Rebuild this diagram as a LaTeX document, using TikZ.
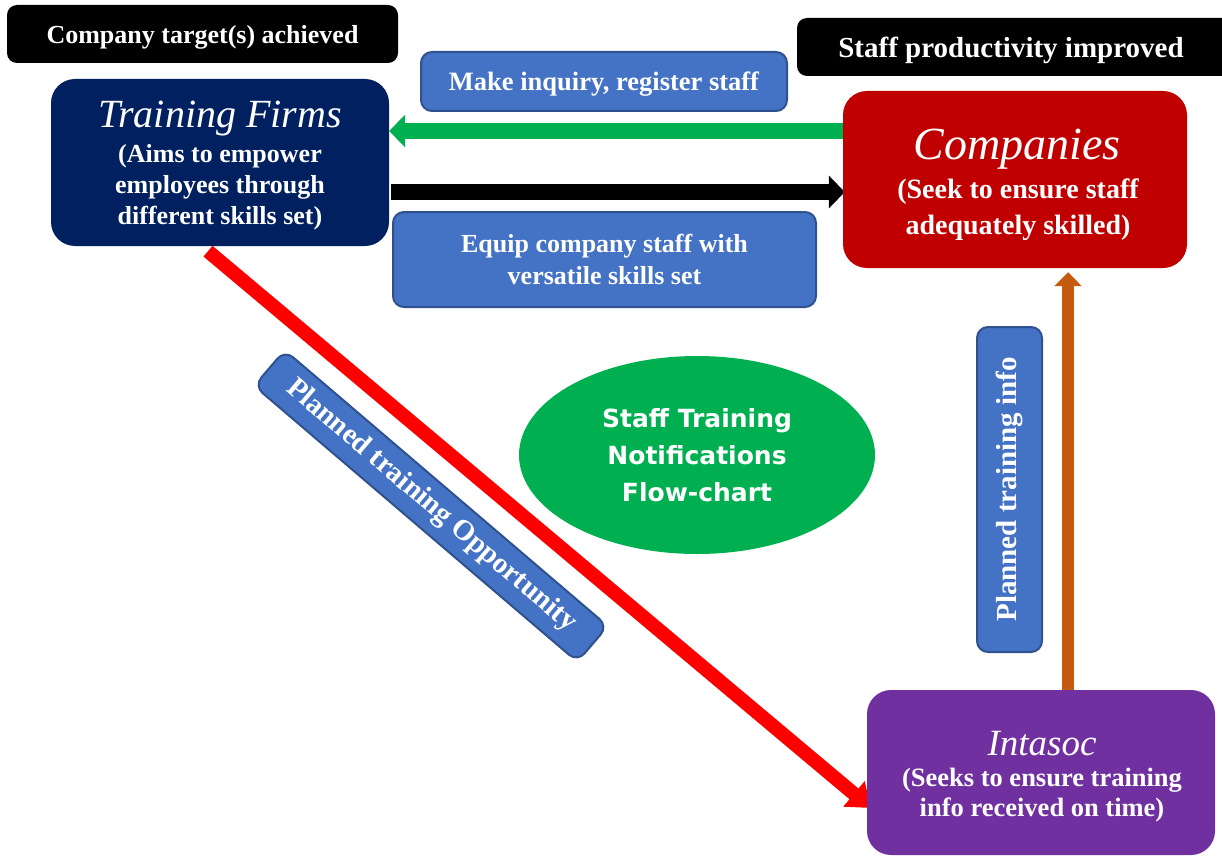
\documentclass[tikz,border=0pt]{standalone}
\usepackage{fontspec}
\setmainfont{Liberation Serif}
\newfontfamily\ellfont{DejaVu Sans}
\usetikzlibrary{arrows.meta,calc,backgrounds,shapes.geometric}
\definecolor{navyc}{HTML}{002060}
\definecolor{bluec}{HTML}{4472C4}
\definecolor{blueb}{HTML}{2F528F}
\definecolor{redc}{HTML}{C00000}
\definecolor{purplec}{HTML}{7030A0}
\definecolor{greenc}{HTML}{00B050}
\definecolor{orangec}{HTML}{C55A11}
\definecolor{brightred}{HTML}{FF0000}
\newcommand{\fsz}[2]{\fontsize{#1}{#2}\selectfont}
\begin{document}
\begin{tikzpicture}[x=1pt,y=-1pt,
  boxbase/.style={text=white, align=center, inner sep=0pt, font=\bfseries},
  blackbox/.style={boxbase, fill=black, rounded corners=10pt, text depth=0pt},
  mainbox/.style={inner sep=0pt, rounded corners=24pt},
  ttltext/.style={text=white, inner sep=0pt, font=\itshape\fsz{#1}{#1}},
  subtext/.style 2 args={text=white, inner sep=0pt, align=center, font=\bfseries\fsz{#1}{#2}},
  bluebox/.style={boxbase, fill=bluec, draw=blueb, line width=2pt, rounded corners=11pt},
  fatarrow/.style={line width=16pt, -{Triangle[width=32pt,length=16pt]}}
]
\useasboundingbox (0,0) rectangle (1222,856);

% black labels
\node[blackbox, minimum width=391pt, minimum height=58pt, font=\bfseries\fsz{26}{31}] (blk1) at (202.5,34) {Company target(s) achieved};
\node[blackbox, minimum width=440pt, minimum height=58pt, font=\bfseries\fsz{29}{34}] (blk2) at (1017,47) {\hspace*{-6pt}Staff productivity improved\hspace*{6pt}};

% main boxes
\node[mainbox, fill=navyc, minimum width=338pt, minimum height=167pt] (tf) at (220,162.5) {};
\node[ttltext=40] (tftitle) at (220,119) {Training Firms};
\node[subtext={26}{31}] (tfsub) at (220,187.5) {(Aims to empower\\employees through\\different skills set)};

\node[mainbox, fill=redc, minimum width=344pt, minimum height=177pt] (comp) at (1015,179.5) {};
\node[ttltext=46] (comptitle) at (1017,149) {Companies};
\node[subtext={28}{36}] (compsub) at (1018,210) {(Seek to ensure staff\\adequately skilled)};

\node[mainbox, fill=purplec, minimum width=348pt, minimum height=165pt] (intasoc) at (1041,772.5) {};
\node[ttltext=37] (intitle) at (1042,744) {Intasoc};
\node[subtext={26.5}{29.5}] (insub) at (1042,795) {(Seeks to ensure training\\info received on time)};

% blue labels
\node[bluebox, minimum width=366pt, minimum height=59pt, text depth=0pt, font=\bfseries\fsz{26.5}{31}] (inq) at (604,81.5) {Make inquiry, register staff};
\node[bluebox, minimum width=423pt, minimum height=95pt, font=\bfseries\fsz{26}{32}] (equip) at (604.5,259.5) {Equip company staff with\\versatile skills set};
\node[bluebox, rotate=-40.5, minimum width=425pt, minimum height=47pt, font=\bfseries\fsz{29}{32}] (pto) at (431,506) {Planned training Opportunity};
\node[bluebox, rotate=90, minimum width=325pt, minimum height=65pt, font=\bfseries\fsz{29}{32}] (pti) at (1009.5,489.5) {Planned training info};

% ellipse
\node[ellipse, fill=greenc, text=white, align=center, inner sep=0pt, minimum width=356pt, minimum height=198pt,
  font=\ellfont\bfseries\fsz{25}{37}] (ell) at (697,455) {Staff Training\\Notifications\\Flow-chart};

% connectors
\begin{pgfonlayer}{background}
\draw[fatarrow, greenc] ($(comp.west)+(0,-48.5)$) -- ($(tf.east)+(0,-31.5)$);
\draw[fatarrow, black] ($(tf.east)+(2,29.5)$) -- ($(comp.west)+(2,12.5)$);
\draw[line width=14pt, brightred, -{Triangle[width=32pt,length=22pt]}] ($(tf.south)+(-12,5)$) -- ($(intasoc.west)+(4,35.5)$);
\draw[line width=12pt, orangec, -{Triangle[width=27pt,length=14pt]}] ($(intasoc.north)+(27,0)$) -- ($(comp.south)+(53,4)$);
\end{pgfonlayer}
\end{tikzpicture}
\end{document}
